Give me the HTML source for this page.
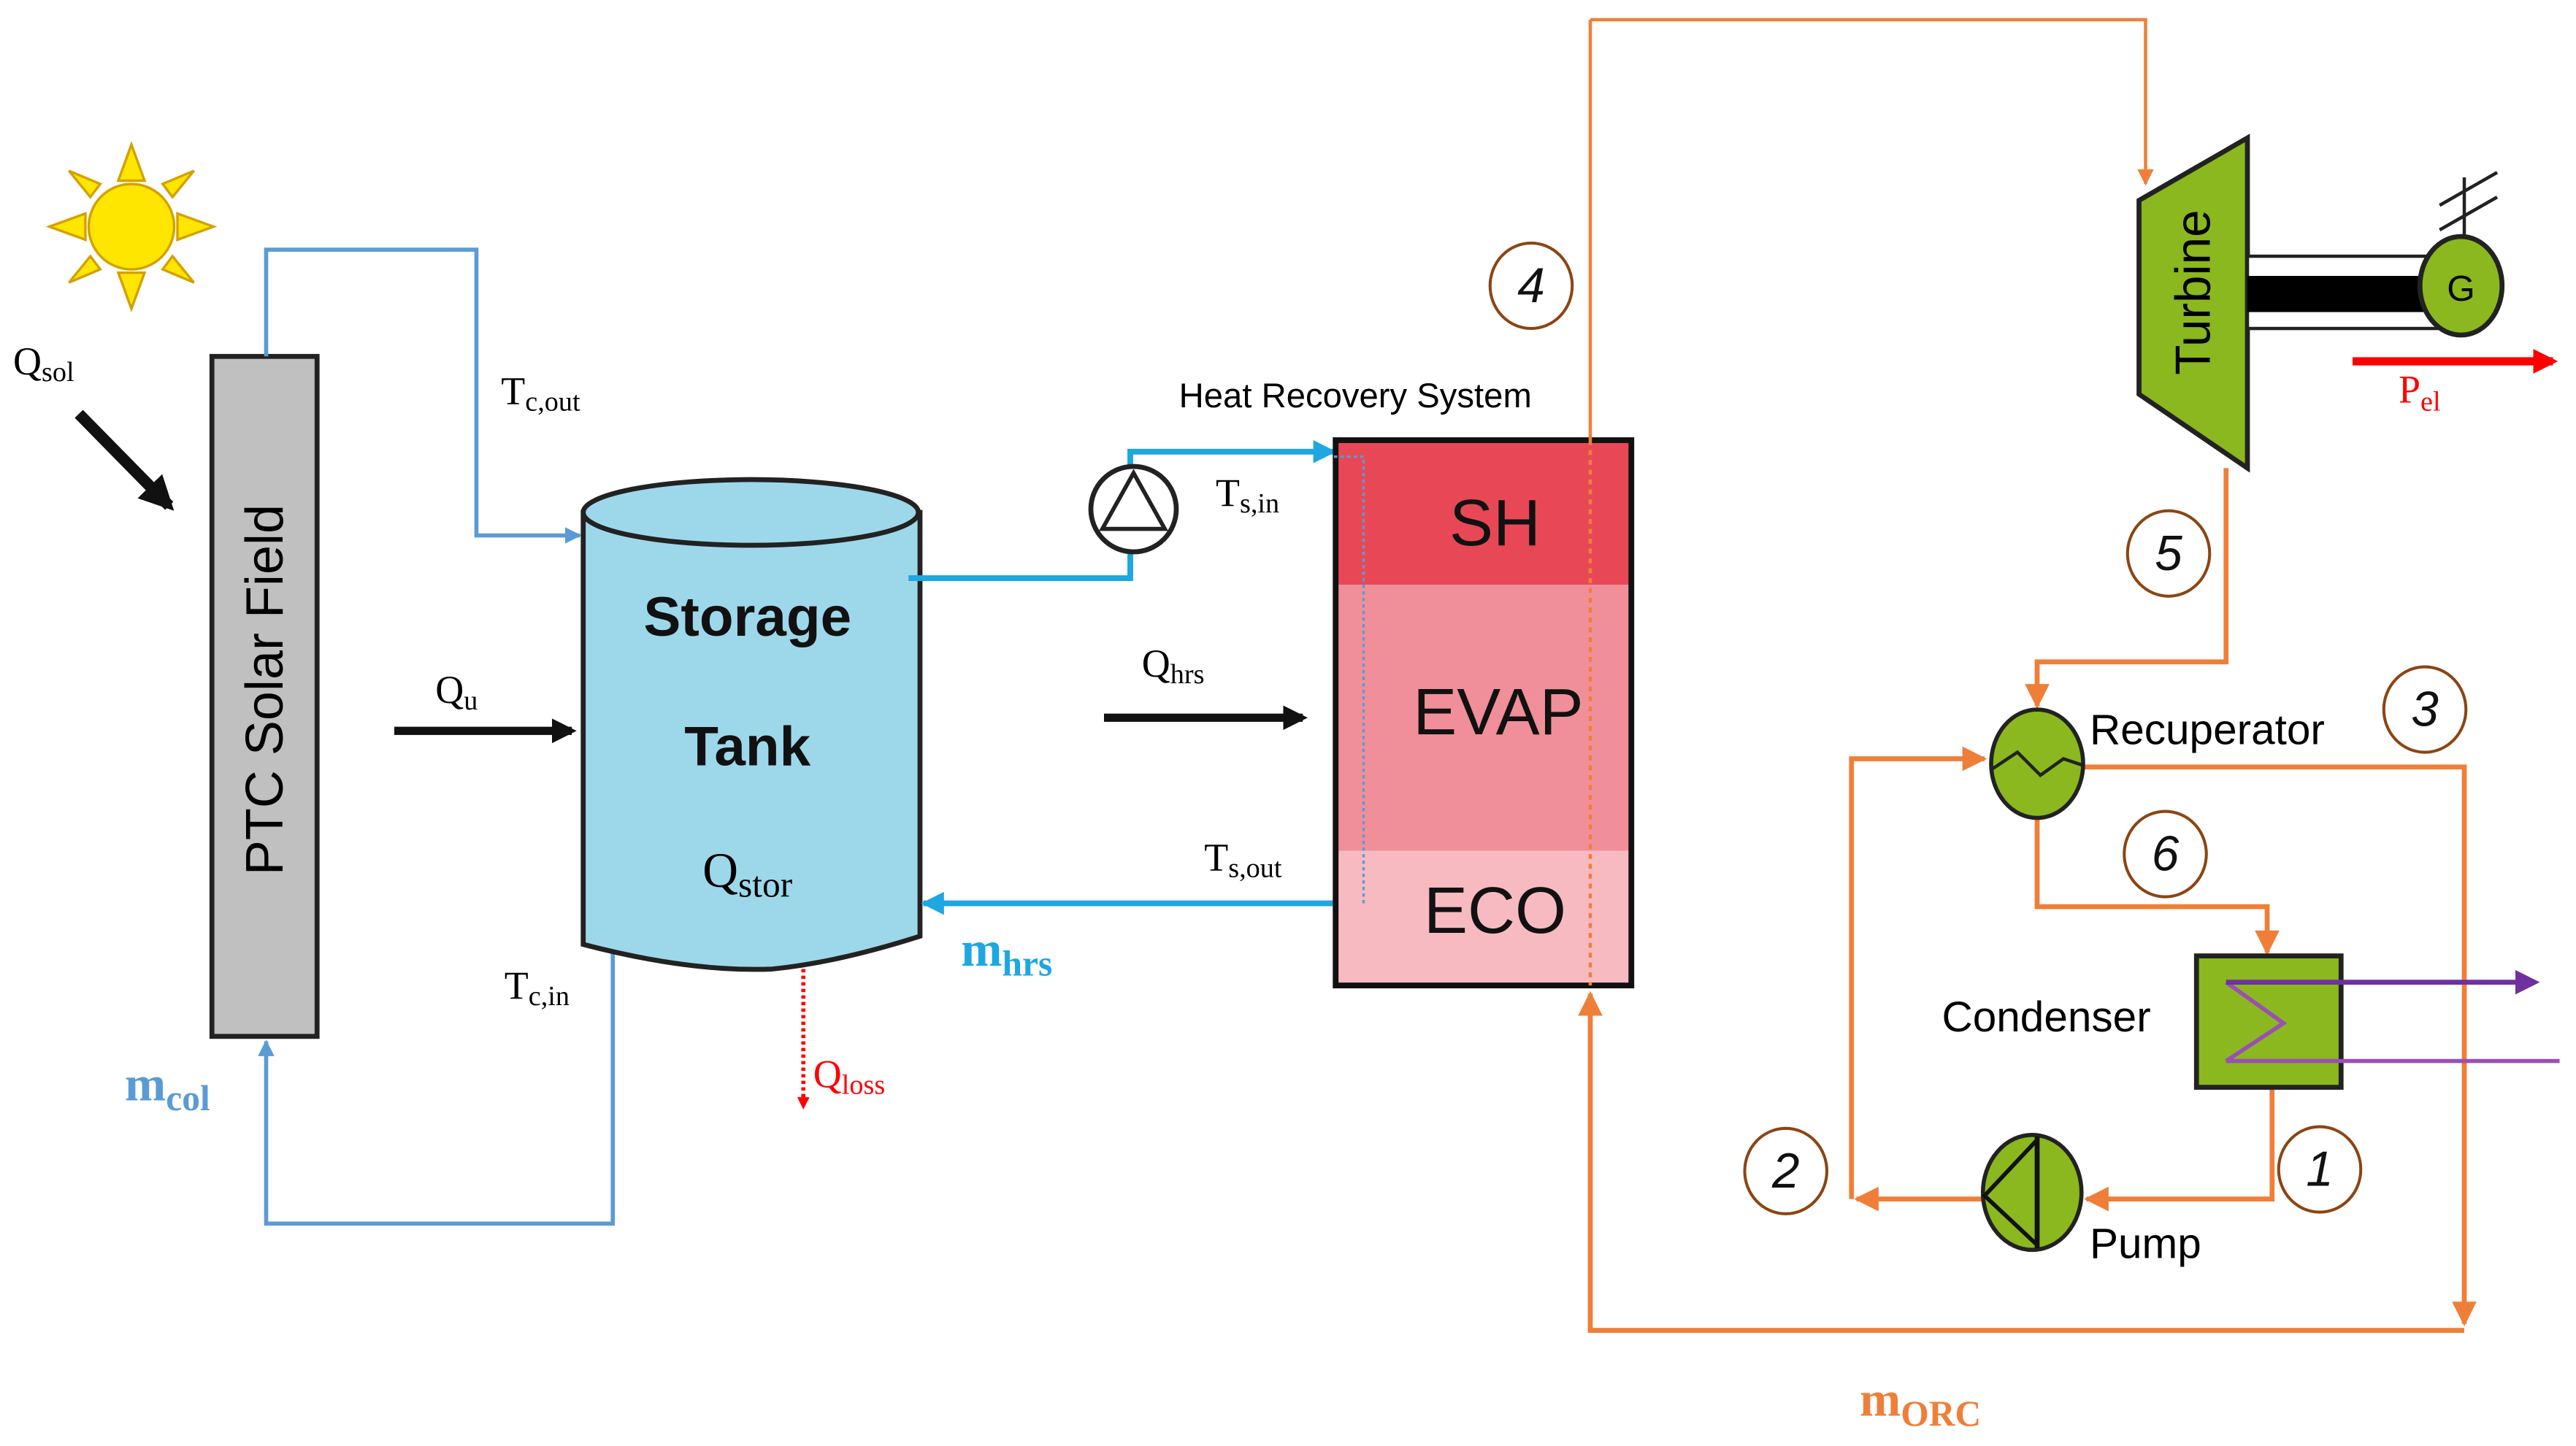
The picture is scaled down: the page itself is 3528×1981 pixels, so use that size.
<!DOCTYPE html>
<html><head><meta charset="utf-8"><style>html,body{margin:0;padding:0;background:#fff;}svg{display:block}</style></head>
<body>
<svg width="3528" height="1981" viewBox="0 0 1568 880.4" preserveAspectRatio="none" xmlns="http://www.w3.org/2000/svg">
<defs>
<marker id="ab" viewBox="0 0 10 10" refX="9" refY="5" markerWidth="4" markerHeight="4" orient="auto"><path d="M0,0L10,5L0,10z" fill="#5b9bd5"/></marker>
<marker id="ac" viewBox="0 0 10 10" refX="9" refY="5" markerWidth="4" markerHeight="4" orient="auto"><path d="M0,0L10,5L0,10z" fill="#1ea7e1"/></marker>
<marker id="ao" viewBox="0 0 10 10" refX="9" refY="5" markerWidth="5" markerHeight="5" orient="auto"><path d="M0,0L10,5L0,10z" fill="#ef7f38"/></marker>
<marker id="ak" viewBox="0 0 10 10" refX="8" refY="5" markerWidth="3" markerHeight="3" orient="auto"><path d="M0,0L10,5L0,10z" fill="#111"/></marker>
<marker id="ar" viewBox="0 0 10 10" refX="8" refY="5" markerWidth="3" markerHeight="3" orient="auto"><path d="M0,0L10,5L0,10z" fill="#f00"/></marker>
<marker id="ap" viewBox="0 0 10 10" refX="8" refY="5" markerWidth="5" markerHeight="5" orient="auto"><path d="M0,0L10,5L0,10z" fill="#7030a0"/></marker>
</defs>
<g font-family="Liberation Serif, serif">
<g fill="#ffe600" stroke="#d4a000" stroke-width="1.5">
<circle cx="80" cy="138" r="26"/>
<polygon points="72,110 80,88 88,110"/><polygon points="72,166 80,188 88,166"/>
<polygon points="52,130 30,138 52,146"/><polygon points="108,130 130,138 108,146"/>
<polygon points="55,120 42,104 61,112"/><polygon points="105,120 118,104 99,112"/>
<polygon points="55,156 42,172 61,164"/><polygon points="105,156 118,172 99,164"/>
</g>
<text x="8" y="228" font-size="24">Q<tspan font-size="17" dy="4">sol</tspan></text>
<line x1="48" y1="252" x2="103" y2="308" stroke="#111" stroke-width="7" marker-end="url(#ak)"/>
<rect x="129" y="217" width="64" height="414" fill="#c0c0c0" stroke="#222" stroke-width="3"/>
<text transform="translate(172,420) rotate(-90)" text-anchor="middle" font-family="Liberation Sans, sans-serif" font-size="32">PTC Solar Field</text>
<polyline points="162,217 162,152 290,152 290,326 353,326" fill="none" stroke="#5b9bd5" stroke-width="2.5" marker-end="url(#ab)"/>
<polyline points="373,578 373,745 162,745 162,634" fill="none" stroke="#5b9bd5" stroke-width="2.5" marker-end="url(#ab)"/>
<text x="305" y="246" font-size="24">T<tspan font-size="17" dy="4">c,out</tspan></text>
<text x="307" y="608" font-size="24">T<tspan font-size="17" dy="4">c,in</tspan></text>
<text x="76" y="670" font-size="30" fill="#5b9bd5" font-weight="bold">m<tspan font-size="22" dy="6">col</tspan></text>
<path d="M355,312 L355,575 Q420,592 470,590 Q510,586 560,570 L560,312 Z" fill="#9dd8ea" stroke="#222" stroke-width="3"/>
<ellipse cx="457" cy="312" rx="102" ry="20" fill="#9dd8ea" stroke="#222" stroke-width="3"/>
<g font-family="Liberation Sans, sans-serif" font-weight="bold" font-size="34" text-anchor="middle" fill="#111">
<text x="455" y="387">Storage</text><text x="455" y="466">Tank</text></g>
<text x="455" y="540" font-size="30" text-anchor="middle">Q<tspan font-size="22" dy="6">stor</tspan></text>
<line x1="240" y1="445" x2="348" y2="445" stroke="#111" stroke-width="5" marker-end="url(#ak)"/>
<text x="265" y="428" font-size="24">Q<tspan font-size="17" dy="4">u</tspan></text>
<line x1="489" y1="590" x2="489" y2="674" stroke="#f00" stroke-width="2.5" stroke-dasharray="2,2" marker-end="url(#ar)"/>
<text x="495" y="662" font-size="24" fill="#f00">Q<tspan font-size="17" dy="4">loss</tspan></text>
<polyline points="553,352 688,352 688,335" fill="none" stroke="#1ea7e1" stroke-width="3.5"/>
<polyline points="688,285 688,275 812,275" fill="none" stroke="#1ea7e1" stroke-width="3.5" marker-end="url(#ac)"/>
<circle cx="690" cy="310" r="26" fill="#fff" stroke="#222" stroke-width="3"/>
<polygon points="690,288 671,322 709,322" fill="none" stroke="#222" stroke-width="2.5"/>
<polyline points="830,550 562,550" fill="none" stroke="#1ea7e1" stroke-width="3.5" marker-end="url(#ac)"/>
<text x="740" y="308" font-size="24">T<tspan font-size="17" dy="4">s,in</tspan></text>
<text x="733" y="530" font-size="24">T<tspan font-size="17" dy="4">s,out</tspan></text>
<text x="585" y="588" font-size="30" fill="#1ea7e1" font-weight="bold">m<tspan font-size="22" dy="6">hrs</tspan></text>
<line x1="672" y1="437" x2="793" y2="437" stroke="#111" stroke-width="5" marker-end="url(#ak)"/>
<text x="695" y="412" font-size="24">Q<tspan font-size="17" dy="4">hrs</tspan></text>
<rect x="813" y="268" width="180" height="88" fill="#e84855"/>
<rect x="813" y="356" width="180" height="162" fill="#f08f99"/>
<rect x="813" y="518" width="180" height="82" fill="#f7bac1"/>
<rect x="813" y="268" width="180" height="332" fill="none" stroke="#111" stroke-width="3.5"/>
<polyline points="812,278 830,278 830,550" fill="none" stroke="#5b9bd5" stroke-width="1.5" stroke-dasharray="2,2"/>
<g font-family="Liberation Sans, sans-serif" font-size="40" text-anchor="middle" fill="#111">
<text x="910" y="332">SH</text><text x="912" y="447">EVAP</text><text x="910" y="568">ECO</text></g>
<text x="825" y="248" font-family="Liberation Sans, sans-serif" font-size="21" text-anchor="middle">Heat Recovery System</text>
<g fill="none" stroke="#ef7f38" stroke-width="3">
<polyline points="968,12 1306,12 1306,112" stroke-width="2" marker-end="url(#ao)"/>
<line x1="968" y1="12" x2="968" y2="268" stroke-width="2"/>
<line x1="968" y1="268" x2="968" y2="600" stroke-width="2" stroke-dasharray="3,3"/>
<polyline points="1500,810 968,810 968,605" marker-end="url(#ao)"/>
<polyline points="1355,285 1355,403 1240,403 1240,430" marker-end="url(#ao)"/>
<polyline points="1268,467 1500,467 1500,806" marker-end="url(#ao)"/>
<polyline points="1127,730 1127,462 1208,462" marker-end="url(#ao)"/>
<polyline points="1240,497 1240,552 1380,552 1380,580" marker-end="url(#ao)"/>
<polyline points="1383,662 1383,730 1270,730" marker-end="url(#ao)"/>
<polyline points="1207,730 1130,730" marker-end="url(#ao)"/>
</g>
<polygon points="1302,122 1368,84 1368,285 1302,240" fill="#8ab81e" stroke="#222" stroke-width="3"/>
<text transform="translate(1345,178) rotate(-90)" text-anchor="middle" font-family="Liberation Sans, sans-serif" font-size="30">Turbine</text>
<rect x="1368" y="156" width="122" height="44" fill="#fff" stroke="#222" stroke-width="2"/>
<rect x="1368" y="168" width="122" height="22" fill="#000"/>
<ellipse cx="1498" cy="174" rx="25" ry="30" fill="#8ab81e" stroke="#222" stroke-width="3"/>
<text x="1498" y="183" text-anchor="middle" font-family="Liberation Sans, sans-serif" font-size="22">G</text>
<g stroke="#222" stroke-width="2"><line x1="1500" y1="144" x2="1500" y2="108"/><line x1="1485" y1="125" x2="1520" y2="105"/><line x1="1485" y1="140" x2="1520" y2="120"/></g>
<line x1="1432" y1="220" x2="1554" y2="220" stroke="#f00" stroke-width="5" marker-end="url(#ar)"/>
<text x="1460" y="245" font-size="24" fill="#f00">P<tspan font-size="17" dy="5">el</tspan></text>
<ellipse cx="1240" cy="465" rx="28" ry="33" fill="#8ab81e" stroke="#222" stroke-width="2.5"/>
<polyline points="1213,468 1228,458 1242,472 1256,462 1268,466" fill="none" stroke="#222" stroke-width="2"/>
<text x="1272" y="453" font-family="Liberation Sans, sans-serif" font-size="26">Recuperator</text>
<rect x="1337" y="582" width="88" height="80" fill="#8ab81e" stroke="#222" stroke-width="3"/>
<polyline points="1355,646 1395,646" fill="none" stroke="#9b4fb5" stroke-width="2.5"/>
<polyline points="1355,598 1390,623 1355,646" fill="none" stroke="#9b4fb5" stroke-width="2.5"/>
<line x1="1355" y1="598" x2="1543" y2="598" stroke="#7030a0" stroke-width="3" marker-end="url(#ap)"/>
<line x1="1390" y1="646" x2="1558" y2="646" stroke="#9b4fb5" stroke-width="2.5"/>
<text x="1182" y="628" font-family="Liberation Sans, sans-serif" font-size="26">Condenser</text>
<ellipse cx="1237" cy="726" rx="30" ry="35" fill="#8ab81e" stroke="#222" stroke-width="2.5"/>
<line x1="1240" y1="692" x2="1240" y2="760" stroke="#111" stroke-width="3"/>
<polyline points="1240,694 1208,728 1240,758" fill="none" stroke="#111" stroke-width="2.5"/>
<text x="1272" y="766" font-family="Liberation Sans, sans-serif" font-size="26">Pump</text>
<g fill="#fff" stroke="#8b4513" stroke-width="1.8">
<ellipse cx="932" cy="174" rx="25" ry="26"/><ellipse cx="1320" cy="337" rx="25" ry="26"/>
<ellipse cx="1476" cy="432" rx="25" ry="26"/><ellipse cx="1318" cy="520" rx="25" ry="26"/>
<ellipse cx="1087" cy="713" rx="25" ry="26"/><ellipse cx="1412" cy="712" rx="25" ry="26"/></g>
<g font-family="Liberation Sans, sans-serif" font-style="italic" font-size="30" text-anchor="middle" fill="#111">
<text x="932" y="184">4</text><text x="1320" y="347">5</text><text x="1476" y="442">3</text>
<text x="1318" y="530">6</text><text x="1087" y="723">2</text><text x="1412" y="722">1</text></g>
<text x="1132" y="862" font-size="30" fill="#ef7f38" font-weight="bold">m<tspan font-size="22" dy="6">ORC</tspan></text>
</g>
</svg>
</body></html>
